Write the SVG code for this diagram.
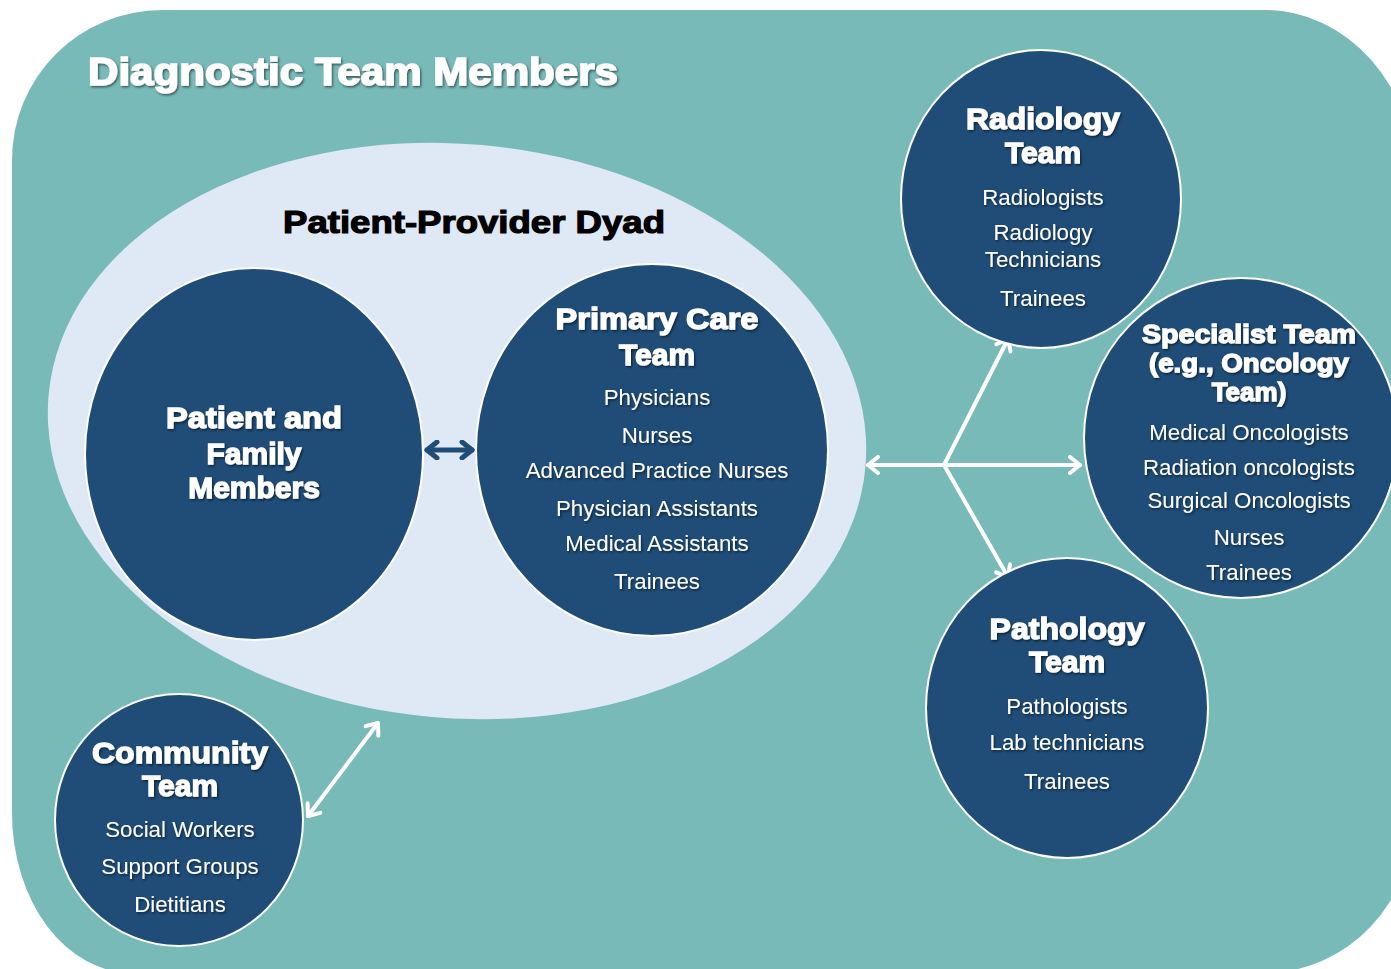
<svg xmlns="http://www.w3.org/2000/svg" width="1391" height="969" viewBox="0 0 1391 969">
<defs>
<style>
.bg{fill:#78bab8}
.dyad{fill:#dfe9f5}
.node{fill:#1f4d78;stroke:#ffffff;stroke-width:2}
.h{font-family:"Liberation Sans",Arial,sans-serif;font-weight:bold;fill:#ffffff;text-anchor:middle;stroke:#ffffff;stroke-width:1.3;paint-order:stroke}
.t{font-family:"Liberation Sans",Arial,sans-serif;font-size:22.3px;fill:#ffffff;text-anchor:middle}
.title{font-family:"Liberation Sans",Arial,sans-serif;font-weight:bold;font-size:38px;fill:#ffffff;stroke:#ffffff;stroke-width:1.6;paint-order:stroke}
.dt{font-family:"Liberation Sans",Arial,sans-serif;font-weight:bold;font-size:32px;fill:#000000;stroke:#000000;stroke-width:1.2;paint-order:stroke;text-anchor:middle}
.wl{fill:none;stroke:#ffffff;stroke-width:4;stroke-linecap:round}
.nl{fill:none;stroke:#1f4d78;stroke-width:5;stroke-linecap:round}
</style>
<filter id="sh" x="-10%" y="-20%" width="120%" height="150%">
<feDropShadow dx="1.2" dy="1.5" stdDeviation="0.8" flood-color="#000000" flood-opacity="0.55"/>
</filter>
<marker id="aw" markerUnits="userSpaceOnUse" markerWidth="20" markerHeight="20" viewBox="0 0 20 20" refX="17" refY="10" orient="auto-start-reverse">
<path d="M7,2 L17,10 L7,18" fill="none" stroke="#ffffff" stroke-width="4" stroke-linecap="round" stroke-linejoin="round"/>
</marker>
<marker id="an" markerUnits="userSpaceOnUse" markerWidth="20" markerHeight="20" viewBox="0 0 20 20" refX="17" refY="10" orient="auto-start-reverse">
<path d="M7,2 L17,10 L7,18" fill="none" stroke="#1f4d78" stroke-width="5" stroke-linecap="round" stroke-linejoin="round"/>
</marker>
</defs>
<rect width="1391" height="969" fill="#ffffff"/>
<path class="bg" d="M12,160 A150,150 0 0 1 162,10 L1265,10 A150,170 0 0 1 1415,180 L1415,813 A150,160 0 0 1 1265,973 L132,973 A120,160 0 0 1 12,813 Z"/>
<text class="title" x="88" y="85" textLength="530" lengthAdjust="spacingAndGlyphs" filter="url(#sh)">Diagnostic Team Members</text>

<g id="dyad">
<ellipse class="dyad" cx="457" cy="431" rx="410" ry="287" transform="rotate(5 457 431)"/>
<text class="dt" x="474" y="233" textLength="382" lengthAdjust="spacingAndGlyphs">Patient-Provider Dyad</text>
</g>

<g id="connectors">
<line class="nl" x1="427" y1="450" x2="472" y2="450" marker-start="url(#an)" marker-end="url(#an)"/>
<line class="wl" x1="868" y1="465" x2="1080" y2="465" marker-start="url(#aw)" marker-end="url(#aw)"/>
<line class="wl" x1="944" y1="465" x2="1008" y2="339" marker-end="url(#aw)"/>
<line class="wl" x1="944" y1="465" x2="1008" y2="577" marker-end="url(#aw)"/>
<line class="wl" x1="308" y1="816" x2="378" y2="723" marker-start="url(#aw)" marker-end="url(#aw)"/>
</g>

<g id="patient">
<ellipse class="node" cx="254" cy="454" rx="169" ry="186"/>
<g filter="url(#sh)">
<text class="h" x="254" y="428" font-size="30" textLength="176" lengthAdjust="spacingAndGlyphs">Patient and</text>
<text class="h" x="254" y="464" font-size="30">Family</text>
<text class="h" x="254" y="498" font-size="30">Members</text>
</g>
</g>

<g id="primary">
<ellipse class="node" cx="652" cy="450" rx="176" ry="186"/>
<g filter="url(#sh)">
<text class="h" x="657" y="329" font-size="30" textLength="203" lengthAdjust="spacingAndGlyphs">Primary Care</text>
<text class="h" x="657" y="365" font-size="30">Team</text>
<text class="t" x="657" y="405">Physicians</text>
<text class="t" x="657" y="443">Nurses</text>
<text class="t" x="657" y="478">Advanced Practice Nurses</text>
<text class="t" x="657" y="516">Physician Assistants</text>
<text class="t" x="657" y="551">Medical Assistants</text>
<text class="t" x="657" y="589">Trainees</text>
</g>
</g>

<g id="radiology">
<ellipse class="node" cx="1041" cy="199" rx="140" ry="149"/>
<g filter="url(#sh)">
<text class="h" x="1043" y="129" font-size="30" textLength="154" lengthAdjust="spacingAndGlyphs">Radiology</text>
<text class="h" x="1043" y="163" font-size="30">Team</text>
<text class="t" x="1043" y="205">Radiologists</text>
<text class="t" x="1043" y="240">Radiology</text>
<text class="t" x="1043" y="267">Technicians</text>
<text class="t" x="1043" y="306">Trainees</text>
</g>
</g>

<g id="specialist">
<ellipse class="node" cx="1241" cy="438" rx="157" ry="160"/>
<g filter="url(#sh)">
<text class="h" x="1249" y="343" font-size="26" textLength="214" lengthAdjust="spacingAndGlyphs">Specialist Team</text>
<text class="h" x="1249" y="372" font-size="26" textLength="200" lengthAdjust="spacingAndGlyphs">(e.g., Oncology</text>
<text class="h" x="1249" y="401" font-size="26">Team)</text>
<text class="t" x="1249" y="440">Medical Oncologists</text>
<text class="t" x="1249" y="475">Radiation oncologists</text>
<text class="t" x="1249" y="508">Surgical Oncologists</text>
<text class="t" x="1249" y="545">Nurses</text>
<text class="t" x="1249" y="580">Trainees</text>
</g>
</g>

<g id="pathology">
<ellipse class="node" cx="1067" cy="708" rx="141" ry="150"/>
<g filter="url(#sh)">
<text class="h" x="1067" y="639" font-size="30" textLength="155" lengthAdjust="spacingAndGlyphs">Pathology</text>
<text class="h" x="1067" y="672" font-size="30">Team</text>
<text class="t" x="1067" y="714">Pathologists</text>
<text class="t" x="1067" y="750">Lab technicians</text>
<text class="t" x="1067" y="789">Trainees</text>
</g>
</g>

<g id="community">
<ellipse class="node" cx="179" cy="820" rx="124" ry="126"/>
<g filter="url(#sh)">
<text class="h" x="180" y="763" font-size="30" textLength="176" lengthAdjust="spacingAndGlyphs">Community</text>
<text class="h" x="180" y="796" font-size="30">Team</text>
<text class="t" x="180" y="837">Social Workers</text>
<text class="t" x="180" y="874">Support Groups</text>
<text class="t" x="180" y="912">Dietitians</text>
</g>
</g>
</svg>
